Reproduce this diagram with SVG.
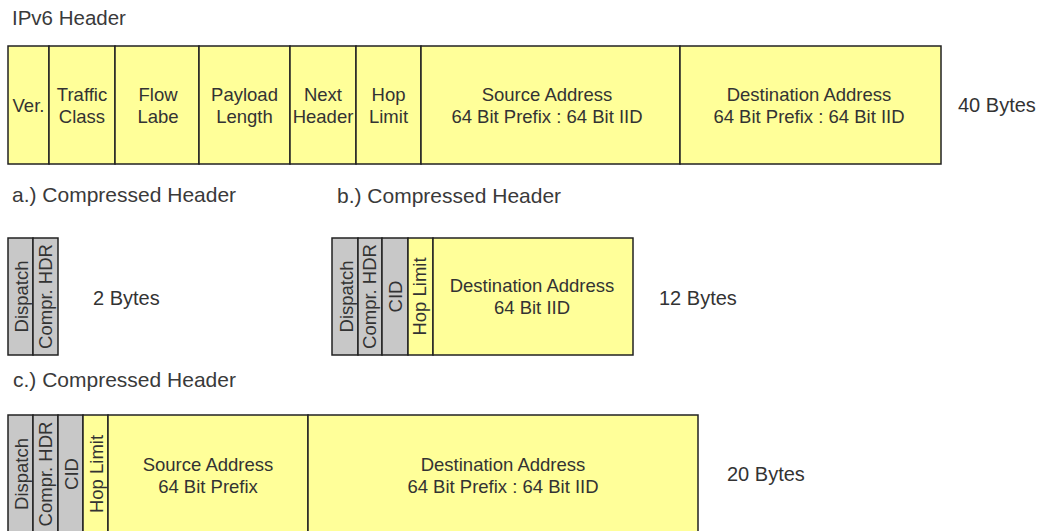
<svg xmlns="http://www.w3.org/2000/svg" width="1042" height="531" viewBox="0 0 1042 531">
<style>
text{font-family:"Liberation Sans",Arial,sans-serif;fill:#333}
.f{font-size:18.5px;text-anchor:middle}
.lbl{font-size:20px}
.hd{font-size:21px;fill:#3a3a3a}
.y{fill:#ffff99;stroke:#222;stroke-width:1.5}
.g{fill:#c8c8c8;stroke:#222;stroke-width:1.5}
</style>
<rect width="1042" height="531" fill="#fff"/>
<text class="hd" x="12" y="25" style="font-size:20.5px">IPv6 Header</text>
<text class="hd" x="12" y="202">a.) Compressed Header</text>
<text class="hd" x="337" y="203">b.) Compressed Header</text>
<text class="hd" x="13" y="387">c.) Compressed Header</text>

<g id="ipv6">
<rect class="y" x="8" y="46" width="41" height="118"/>
<text class="f" x="28.5" y="112">Ver.</text>
<rect class="y" x="49" y="46" width="66" height="118"/>
<text class="f" x="82" y="101">Traffic</text><text class="f" x="82" y="123">Class</text>
<rect class="y" x="115" y="46" width="84" height="118"/>
<text class="f" x="158" y="101">Flow</text><text class="f" x="158" y="123">Labe</text>
<rect class="y" x="199" y="46" width="91" height="118"/>
<text class="f" x="244.5" y="101">Payload</text><text class="f" x="244.5" y="123">Length</text>
<rect class="y" x="290" y="46" width="66" height="118"/>
<text class="f" x="323" y="101">Next</text><text class="f" x="323" y="123">Header</text>
<rect class="y" x="356" y="46" width="65" height="118"/>
<text class="f" x="388.5" y="101">Hop</text><text class="f" x="388.5" y="123">Limit</text>
<rect class="y" x="421" y="46" width="259" height="118"/>
<text class="f" x="547" y="101">Source Address</text><text class="f" x="547" y="123">64 Bit Prefix : 64 Bit IID</text>
<rect class="y" x="680" y="46" width="261" height="118"/>
<text class="f" x="809" y="101">Destination Address</text><text class="f" x="809" y="123">64 Bit Prefix : 64 Bit IID</text>
<text class="lbl" x="958" y="112">40 Bytes</text>
</g>

<g id="compressed-a">
<rect class="g" x="8" y="238" width="25" height="117"/>
<rect class="g" x="33" y="238" width="25" height="117"/>
<text class="f" transform="translate(27.5,296.5) rotate(-90)">Dispatch</text>
<text class="f" transform="translate(51.5,296.5) rotate(-90)">Compr. HDR</text>
<text class="lbl" x="93" y="305">2 Bytes</text>
</g>

<g id="compressed-b">
<rect class="g" x="332" y="238" width="26" height="117"/>
<rect class="g" x="358" y="238" width="24" height="117"/>
<rect class="g" x="382" y="238" width="26" height="117"/>
<rect class="y" x="408" y="238" width="25" height="117"/>
<rect class="y" x="433" y="238" width="200" height="117"/>
<text class="f" transform="translate(352.5,296.5) rotate(-90)">Dispatch</text>
<text class="f" transform="translate(376,296.5) rotate(-90)">Compr. HDR</text>
<text class="f" transform="translate(401.5,296.5) rotate(-90)">CID</text>
<text class="f" transform="translate(426,296.5) rotate(-90)">Hop Limit</text>
<text class="f" x="532" y="292">Destination Address</text>
<text class="f" x="532" y="314">64 Bit IID</text>
<text class="lbl" x="659" y="305">12 Bytes</text>
</g>

<g id="compressed-c">
<rect class="g" x="8" y="415" width="25" height="117"/>
<rect class="g" x="33" y="415" width="25" height="117"/>
<rect class="g" x="58" y="415" width="25" height="117"/>
<rect class="y" x="83" y="415" width="25" height="117"/>
<rect class="y" x="108" y="415" width="200" height="117"/>
<rect class="y" x="308" y="415" width="390" height="117"/>
<text class="f" transform="translate(28,474) rotate(-90)">Dispatch</text>
<text class="f" transform="translate(52,474) rotate(-90)">Compr. HDR</text>
<text class="f" transform="translate(78,474) rotate(-90)">CID</text>
<text class="f" transform="translate(103,474) rotate(-90)">Hop Limit</text>
<text class="f" x="208" y="470.5">Source Address</text>
<text class="f" x="208" y="493">64 Bit Prefix</text>
<text class="f" x="503" y="470.5">Destination Address</text>
<text class="f" x="503" y="493">64 Bit Prefix : 64 Bit IID</text>
<text class="lbl" x="727" y="481">20 Bytes</text>
</g>
<g id="connectors"/>
</svg>
